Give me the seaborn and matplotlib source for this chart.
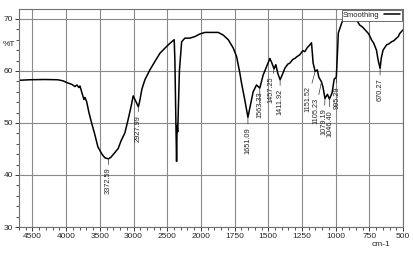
import numpy as np
import pandas as pd
import matplotlib
matplotlib.use("Agg")
import matplotlib.pyplot as plt
import seaborn as sns

# ---- data ----
wavenumber = [4700, 4538, 4315, 4125, 4048, 3989, 3914, 3870, 3840, 3810, 3795, 3766, 3736,
              3721, 3696, 3662, 3622, 3573, 3529, 3469, 3425, 3372, 3336, 3284, 3227, 3187,
              3128, 3083, 3039, 3005, 2979, 2928, 2905, 2876, 2831, 2757, 2683, 2608, 2509,
              2460, 2396, 2386, 2371, 2361, 2353, 2344, 2334, 2319, 2286, 2237, 2163, 2089,
              2015, 1970, 1921, 1872, 1835, 1797, 1760, 1735, 1711, 1698, 1674, 1651, 1612,
              1587, 1563, 1538, 1513, 1488, 1473, 1457, 1444, 1429, 1412, 1392, 1377, 1355,
              1340, 1318, 1303, 1284, 1266, 1243, 1229, 1210, 1191, 1179, 1167, 1152, 1136,
              1125, 1105, 1094, 1079, 1061, 1046, 1026, 1011, 995, 988, 980, 951, 926, 892,
              873, 858, 840, 821, 799, 771, 754, 734, 717, 697, 684, 670, 661, 648, 622, 605,
              585, 568, 548, 535, 524, 500]
transmittance = [58.2, 58.3, 58.35, 58.3, 58.1, 57.75, 57.4, 57.0, 57.3, 56.8, 57.1, 55.8, 54.5,
                 54.9, 54.1, 52.0, 50.0, 47.7, 45.4, 44.0, 43.3, 43.1, 43.4, 44.2, 45.1, 46.5,
                 48.1, 50.5, 53.0, 55.2, 54.5, 53.1, 54.4, 56.5, 58.3, 60.2, 61.8, 63.4, 64.7,
                 65.3, 66.0, 62.0, 50.0, 42.6, 49.5, 48.3, 53.0, 60.0, 65.6, 66.3, 66.3, 66.6,
                 67.1, 67.4, 67.4, 67.4, 66.9, 66.0, 64.4, 62.75, 59.6, 57.6, 54.4, 51.1, 56.0,
                 57.3, 56.7, 59.2, 60.8, 62.4, 61.5, 60.4, 61.2, 59.5, 58.3, 59.5, 60.5, 61.3,
                 61.5, 62.2, 62.4, 62.8, 63.1, 63.9, 63.7, 64.5, 65.0, 65.4, 61.5, 59.9, 60.2,
                 58.8, 57.9, 56.9, 54.7, 55.5, 54.6, 55.8, 58.4, 58.8, 62.5, 67.3, 69.5, 70.1,
                 70.8, 70.5, 70.1, 69.6, 68.8, 68.4, 67.6, 67.1, 66.0, 65.3, 64.0, 62.0, 60.5,
                 62.5, 64.0, 65.0, 65.2, 65.6, 65.8, 66.3, 66.6, 67.2, 67.9]

peak_labels = ["3372.59", "2927.99", "1651.09", "1563.33", "1457.25", "1411.92",
               "1151.52", "1105.23", "1079.19", "1046.40", "995.29", "670.27"]
peak_wn = [3372, 2928, 1651, 1563, 1457, 1412, 1152, 1105, 1079, 1046, 995, 670]
peak_t = [43.1, 53.1, 51.1, 56.7, 60.4, 58.3, 59.9, 57.9, 54.7, 54.6, 58.8, 60.5]

x_major = [4500, 4000, 3500, 3000, 2500, 2000, 1750, 1500, 1250, 1000, 750, 500]
y_major = [30, 40, 50, 60, 70]

# label offsets in pixels (dx, dy)
label_offsets = [(0, -9), (0, -8), (0, -10), (0, -3), (-3, -8), (0, -9),
                 (-7.6, -15), (-6, -16), (-1, -10), (0.5, -11), (1, -9), (0, -10)]

df = pd.DataFrame({"wn": wavenumber, "T": transmittance})

sns.set_theme(style="white")
plt.rcParams["font.family"] = ["Liberation Sans", "DejaVu Sans"]

fig = plt.figure(figsize=(4.14, 2.54), dpi=100)
ax = fig.add_axes([19 / 414, 1 - 227 / 254, (403 - 19) / 414, (227 - 9) / 254])


def fwd(x):
    x = np.asarray(x, dtype=float)
    return np.where(x > 2000, 2000 + (x - 2000) / 2.0, x)


def inv(u):
    u = np.asarray(u, dtype=float)
    return np.where(u > 2000, 2000 + (u - 2000) * 2.0, u)


ax.set_xscale("function", functions=(fwd, inv))

sns.lineplot(data=df, x="wn", y="T", ax=ax, color="black", linewidth=1.1,
             sort=False, estimator=None, label="Smoothing")

ax.set_xlim(4700, 500)
ax.set_ylim(30, 71.9)

ax.set_xticks(x_major)
ax.set_xticklabels([str(v) for v in x_major])
minor_x = [v for v in range(4700, 2000, -100) if v not in x_major] + \
          [v for v in range(2000, 499, -50) if v not in x_major]
ax.set_xticks(minor_x, minor=True)
ax.set_yticks(y_major)
ax.set_yticklabels([str(v) for v in y_major])
ax.set_yticks(list(range(30, 72, 2)), minor=True)

ax.tick_params(axis="both", which="major", direction="out", length=3, width=0.7,
               color="#333333", labelsize=6, pad=1.5, bottom=True, left=True)
ax.tick_params(axis="both", which="minor", direction="out", length=2, width=0.6,
               color="#333333", bottom=True, left=True)

ax.grid(True, which="major", color="#8a8a8a", linewidth=0.8)
for s in ax.spines.values():
    s.set_color("#707070")
    s.set_linewidth(0.8)
ax.set_xlabel("")
ax.set_ylabel("")

for lab, w, t, (dx, dy) in zip(peak_labels, peak_wn, peak_t, label_offsets):
    ax.annotate(lab, xy=(w, t), xytext=(dx, dy), textcoords="offset pixels",
                rotation=90, ha="center", va="top", fontsize=5.3,
                arrowprops=dict(arrowstyle="-", color="#333333", lw=0.5,
                                shrinkA=0, shrinkB=0))

leg = ax.legend(loc="upper right", bbox_to_anchor=(1.0, 1.0), borderaxespad=0.15,
                markerfirst=False, fancybox=False, framealpha=1, edgecolor="#555555",
                fontsize=5.5, handlelength=2.2, handletextpad=0.5, borderpad=0.2)
leg.get_frame().set_linewidth(0.6)

fig.text(3 / 414, 1 - 45 / 254, "%T", fontsize=6, va="center", ha="left")
fig.text(381 / 414, 1 - 245 / 254, "cm-1", fontsize=6, va="center", ha="center")

fig.savefig("out.png", dpi=100)
